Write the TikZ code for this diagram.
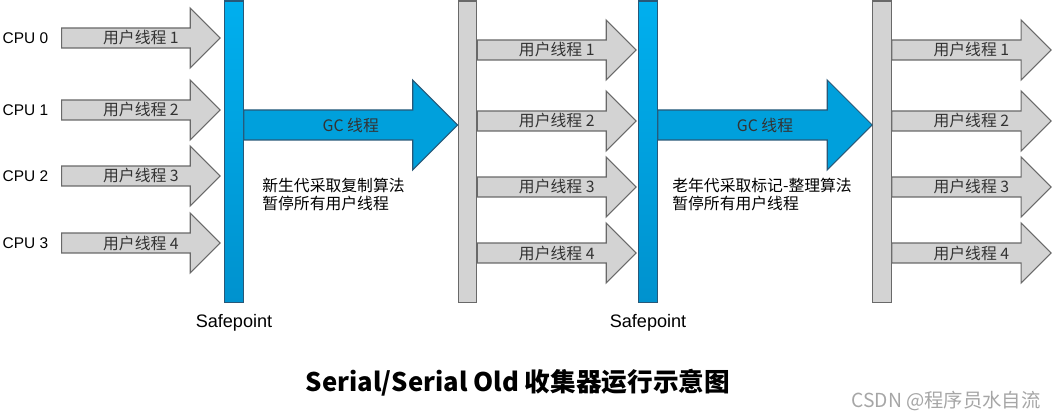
\documentclass[tikz,border=0pt]{standalone}
\usepackage{fontspec}
\setmainfont{Noto Sans CJK SC}
\newfontfamily\arialfont{Liberation Sans}
\usepackage{tikz}
\usetikzlibrary{positioning,calc}
\definecolor{argray}{RGB}{211,211,211}
\definecolor{edgegray}{RGB}{105,105,105}
\definecolor{blueup}{RGB}{0,175,238}
\definecolor{bluedown}{RGB}{0,146,206}
\definecolor{gcblue}{RGB}{0,160,220}
\definecolor{edgeblue}{RGB}{40,88,120}

\begin{document}
\begin{tikzpicture}[x=0.02cm,y=-0.02cm,font=\fontsize{9pt}{10.8pt}\selectfont,
  bigarrow/.style n args={3}{to path={let \p1=(\tikztostart),\p2=(\tikztotarget) in
    (\x1,\y1+#1) -- (\x2-#3,\y1+#1) -- (\x2-#3,\y1+#2) -- (\x2,\y1)
    -- (\x2-#3,\y1-#2) -- (\x2-#3,\y1-#1) -- (\x1,\y1-#1) -- cycle}},
  thread/.style={bigarrow={0.2cm}{0.6cm}{0.6cm},fill=argray,draw=edgegray,line width=0.6pt},
  gcarrow/.style={bigarrow={0.3cm}{0.9cm}{0.9cm},fill=gcblue,draw=edgeblue,line width=0.6pt},
  bar/.style={minimum width=0.37cm,minimum height=6.04cm,inner sep=0pt,line width=0.6pt},
  safebar/.style={bar,draw=edgeblue,top color=blueup,bottom color=bluedown},
  plainbar/.style={bar,draw=edgegray,fill=argray},
  lbl/.style={text=black!80,inner sep=0pt},
  cpu/.style={font=\arialfont\fontsize{8.8pt}{10pt}\selectfont,inner sep=0pt},
  desc/.style={align=left,inner sep=0pt},
  sp/.style={font=\arialfont\fontsize{10.3pt}{12pt}\selectfont,inner sep=0pt}]
  \useasboundingbox (0,0) rectangle (1053,418);

  % safepoint bars and the resumed-thread bars
  \node[safebar] (sp1) at (234,152) {};
  \node[plainbar] (mid) at (467.5,152) {};
  \node[safebar] (sp2) at (648,152) {};
  \node[plainbar] (rt) at (882,152) {};

  % user threads before the first safepoint
  \foreach \i/\k/\y in {0/1/38,1/2/110,2/3/176,3/4/243}{
    \node[cpu] (cpu\i) at (25.5,\y) {CPU \i};
    \coordinate (a\i) at ($(cpu\i.east)+(13,0)$);
    \coordinate (b\i) at ($(cpu\i -| sp1.west)+(-4,0)$);
    \draw[thread] (a\i) to (b\i);
    \node[lbl] (u\i) at ($(a\i)!0.5!(b\i)$) {用户线程 \k};
  }

  % user threads after each collection
  \foreach \k/\y in {1/50,2/121,3/187,4/253}{
    \coordinate (m\k) at (0,\y);
    \coordinate (s\k) at ($(sp2.west |- m\k)+(-2,0)$);
    \coordinate (tip\k) at (1051,\y);
    \draw[thread] (mid.east |- m\k) to (s\k);
    \node[lbl] (v\k) at ($(mid.east |- m\k)!0.5!(s\k)$) {用户线程 \k};
    \draw[thread] (rt.east |- m\k) to (tip\k);
    \node[lbl] (w\k) at ($(rt.east |- m\k)!0.5!(tip\k)$) {用户线程 \k};
  }

  % GC threads
  \coordinate (gcy) at (0,125);
  \draw[gcarrow] (sp1.east |- gcy) to (mid.west |- gcy);
  \node[lbl] (gc1) at ($(sp1.east |- gcy)!0.5!(mid.west |- gcy)$) {GC 线程};
  \draw[gcarrow] (sp2.east |- gcy) to (rt.west |- gcy);
  \node[lbl] (gc2) at ($(sp2.east |- gcy)!0.5!(rt.west |- gcy)$) {GC 线程};

  \node[desc,anchor=west] (note1) at (262,194.5) {新生代采取复制算法\\暂停所有用户线程};
  \node[desc,anchor=west] (note2) at (672,194.5) {老年代采取标记-整理算法\\暂停所有用户线程};

  \node[sp,below=0.22cm of sp1] (safe1) {Safepoint};
  \node[sp,below=0.22cm of sp2] (safe2) {Safepoint};

  \node[font=\bfseries\fontsize{14.6pt}{17pt}\selectfont] (title) at (518,383) {Serial/Serial Old 收集器运行示意图};
  \node[text=black!35,font=\fontsize{11pt}{13pt}\selectfont] (mark) at (946,401) {CSDN @程序员水自流};
\end{tikzpicture}
\end{document}
